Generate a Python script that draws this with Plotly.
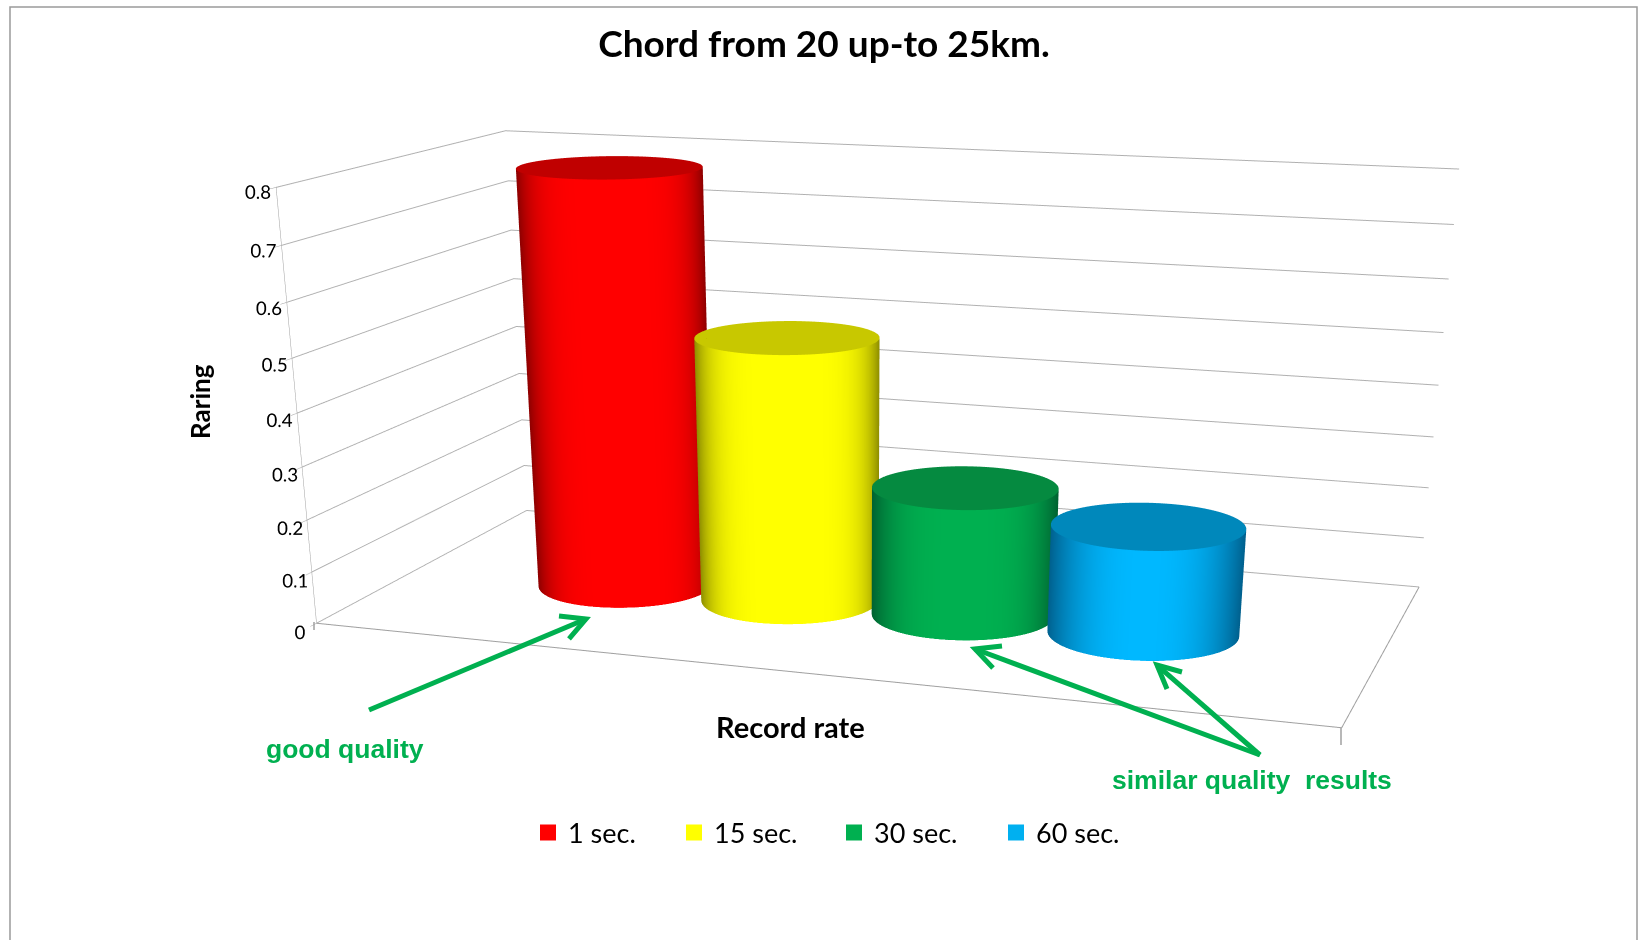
import numpy as np
import plotly.graph_objects as go

# Data
series = ["1 sec.", "15 sec.", "30 sec.", "60 sec."]
values = [0.80, 0.507, 0.247, 0.205]

# Styling
colors = ["#FF0000", "#FFFF00", "#00B050", "#00B8FF"]
legend_colors = ["#FF0000", "#FFFF00", "#00B050", "#00B0F0"]
caps = ["#C00000", "#C8C800", "#058A40", "#0088BB"]
darks = ["#8A0000", "#8A8A00", "#006030", "#005F8C"]
shade_pow = [5, 5, 3.5, 2.5]

# Placement of the cylinders on the floor (axis units)
xc = [0.229, 0.408, 0.588, 0.771]
yc = [0.479, 0.478, 0.487, 0.474]
rad = [0.089, 0.089, 0.09, 0.092]

# Camera and scene proportions
eye = [0.8052, -2.4428, 0.5199]
cen = [0.2176, -0.7127, -0.3771]
up = [-0.0095, 0, 1]
ay, az = 0.4785, 0.4054
Wp, Hp = 1714, 2181


def X(p):
    return p / Wp


def Y(p):
    return 1 - p / Hp


fig = go.Figure()
tt = np.linspace(0, 2 * np.pi, 181)
light = dict(ambient=1, diffuse=0, specular=0, fresnel=0, roughness=1)
for i in range(4):
    Xs = np.outer(np.cos(tt), [rad[i], rad[i]]) + xc[i]
    Ys = np.outer(np.sin(tt), [rad[i], rad[i]]) / ay + yc[i]
    Zs = np.outer(np.ones_like(tt), [0, values[i]])
    vdir = np.arctan2(eye[1] - (yc[i] - .5) * ay, eye[0] - (xc[i] - .5))
    S = np.outer(1 - np.abs(np.sin(tt - vdir)) ** shade_pow[i], [1, 1])
    fig.add_trace(go.Surface(x=Xs, y=Ys, z=Zs, surfacecolor=S, cmin=0, cmax=1, showscale=False,
                             colorscale=[[0, darks[i]], [1, colors[i]]], lighting=light, hoverinfo="skip"))
    Xc = np.outer(np.cos(tt), [0, rad[i]]) + xc[i]
    Yc = np.outer(np.sin(tt), [0, rad[i]]) / ay + yc[i]
    Zc = np.full(Xc.shape, values[i])
    fig.add_trace(go.Surface(x=Xc, y=Yc, z=Zc, surfacecolor=np.zeros(Xc.shape), cmin=0, cmax=1, showscale=False,
                             colorscale=[[0, caps[i]], [1, caps[i]]], lighting=light, hoverinfo="skip"))

fig.add_trace(go.Scatter3d(x=[0, 1, 1], y=[0, 0, 1], z=[0, 0, 0], mode="lines",
                           line=dict(color="#a0a0a0", width=2), showlegend=False, hoverinfo="skip"))

legend_names = ["legend", "legend2", "legend3", "legend4"]
for i in range(4):
    fig.add_trace(go.Scatter(x=[None], y=[None], mode="markers", name=series[i], legend=legend_names[i],
                             marker=dict(symbol="square", size=17, color=legend_colors[i])))


def pth(pts):
    return "M" + " L".join("%.5f,%.5f" % (X(a), Y(b)) for a, b in pts)


arrows = [
    [(369, 710), (586, 619)], [(559, 616), (586, 619), (569, 639)],
    [(1260, 755), (975, 649)], [(1002, 646), (975, 649), (993, 668)],
    [(1260, 755), (1157, 665)], [(1182, 672), (1157, 665), (1167, 689)],
]
shapes = [dict(type="path", xref="paper", yref="paper", path=pth(a),
               line=dict(color="#00B050", width=5), layer="above") for a in arrows]
shapes.append(dict(type="path", xref="paper", yref="paper",
                   path=pth([(10, 945), (10, 7), (1637, 7), (1637, 945)]),
                   line=dict(color="#9a9a9a", width=1.5)))
for a, b, c, d in [(314, 622, 314, 630), (1341, 728, 1341, 745)]:
    shapes.append(dict(type="line", xref="paper", yref="paper", x0=X(a), y0=Y(b), x1=X(c), y1=Y(d),
                       line=dict(color="#a0a0a0", width=1.5)))


def note(t, x, y, size, color="#000000", family="Lato", angle=0):
    return dict(text="<b>%s</b>" % t, x=X(x), y=Y(y), xref="paper", yref="paper",
                xanchor="center", yanchor="middle", showarrow=False, textangle=angle,
                font=dict(size=size, color=color, family=family))


leg = dict(orientation="h", y=Y(833), xanchor="left", yanchor="middle",
           font=dict(family="Lato", size=27, color="#000"), bgcolor="rgba(0,0,0,0)")
fig.update_layout(
    width=Wp, height=Hp, margin=dict(l=0, r=0, t=0, b=0),
    paper_bgcolor="#FFFFFF", plot_bgcolor="rgba(0,0,0,0)",
    title=dict(text="<b>Chord from 20 up-to 25km.</b>", x=X(824), y=Y(44), xref="paper", yref="paper",
               xanchor="center", yanchor="middle", font=dict(family="Lato", size=37, color="#000")),
    xaxis=dict(visible=False), yaxis=dict(visible=False),
    showlegend=True,
    legend=dict(leg, x=X(528)), legend2=dict(leg, x=X(674)), legend3=dict(leg, x=X(834)), legend4=dict(leg, x=X(996)),
    scene=dict(
        domain=dict(x=[0, 1], y=[0, 1]), aspectmode="manual", aspectratio=dict(x=1, y=ay, z=az),
        camera=dict(eye=dict(x=eye[0], y=eye[1], z=eye[2]), center=dict(x=cen[0], y=cen[1], z=cen[2]),
                    up=dict(x=up[0], y=up[1], z=up[2])),
        xaxis=dict(range=[0, 1], showgrid=False, showticklabels=False, showbackground=False, title="",
                   zeroline=False, showline=False, showspikes=False),
        yaxis=dict(range=[0, 1], showgrid=False, showticklabels=False, showbackground=False, title="",
                   zeroline=False, showline=False, showspikes=False),
        zaxis=dict(range=[0, .8], dtick=.1, gridcolor="#b0b0b0",
                   showbackground=False, title="", zeroline=False, showline=True, linecolor="#a0a0a0",
                   ticks="outside", tickcolor="#a0a0a0", ticklen=6, showspikes=False, tickangle=0,
                   tickfont=dict(family="Lato", size=15, color="#000"))),
    shapes=shapes,
    annotations=[note("Raring", 200, 402, 26, angle=-90), note("Record rate", 790, 727, 29),
                 note("good quality", 345, 749, 26.5, color="#00B050", family="Liberation Sans"),
                 note("similar quality\u00a0\u00a0results", 1252, 780, 26.5, color="#00B050", family="Liberation Sans")])
fig.write_html("out.html", config=dict(displayModeBar=False),
               post_script="document.body.style.margin='0';document.documentElement.style.overflow='hidden';")
